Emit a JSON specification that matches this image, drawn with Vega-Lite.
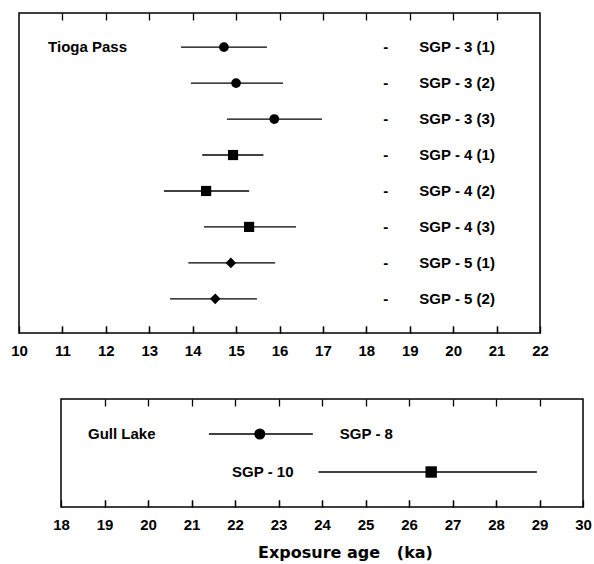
{
  "$schema": "https://vega.github.io/schema/vega-lite/v6.json",
  "padding": {"left": 9, "top": 12, "right": 0, "bottom": 0},
  "background": "white",
  "spacing": 39,
  "datasets": {
    "tioga": [
      {"sample": "SGP - 3 (1)", "group": "SGP-3", "age": 14.72, "low": 13.73, "high": 15.71},
      {"sample": "SGP - 3 (2)", "group": "SGP-3", "age": 15.0, "low": 13.96, "high": 16.08},
      {"sample": "SGP - 3 (3)", "group": "SGP-3", "age": 15.88, "low": 14.79, "high": 16.98},
      {"sample": "SGP - 4 (1)", "group": "SGP-4", "age": 14.93, "low": 14.22, "high": 15.63},
      {"sample": "SGP - 4 (2)", "group": "SGP-4", "age": 14.31, "low": 13.34, "high": 15.3},
      {"sample": "SGP - 4 (3)", "group": "SGP-4", "age": 15.3, "low": 14.26, "high": 16.38},
      {"sample": "SGP - 5 (1)", "group": "SGP-5", "age": 14.88, "low": 13.9, "high": 15.9},
      {"sample": "SGP - 5 (2)", "group": "SGP-5", "age": 14.52, "low": 13.48, "high": 15.48}
    ],
    "gull": [
      {"sample": "SGP - 8", "group": "SGP-8", "age": 22.57, "low": 21.4, "high": 23.79},
      {"sample": "SGP - 10", "group": "SGP-10", "age": 26.51, "low": 23.92, "high": 28.94}
    ]
  },
  "config": {
    "font": "Liberation Sans",
    "view": {"stroke": "black", "strokeWidth": 1.5},
    "axis": {
      "grid": false,
      "domain": false,
      "ticks": true,
      "zindex": 1,
      "labelFont": "Liberation Sans",
      "labelFontSize": 15,
      "labelFontWeight": "bold",
      "labelColor": "black",
      "labelFlush": false,
      "tickColor": "black",
      "tickOpacity": 1,
      "tickWidth": 1.3,
      "tickSize": 7,
      "offset": -7,
      "labelPadding": 10
    },
    "text": {"font": "Liberation Sans", "fontSize": 15, "fontWeight": "bold", "color": "black"}
  },
  "vconcat": [
    {
      "width": 521,
      "height": 320,
      "data": {"name": "tioga"},
      "encoding": {
        "y": {"field": "sample", "type": "nominal", "sort": null, "axis": null,
              "scale": {"type": "point", "padding": 0.95}}
      },
      "layer": [
        {
          "mark": {"type": "rule", "color": "black", "strokeWidth": 1.3},
          "encoding": {
            "x": {"field": "low", "type": "quantitative",
                  "scale": {"domain": [10, 22], "nice": false, "zero": false},
                  "axis": {"orient": "bottom", "title": null, "values": [10, 11, 12, 13, 14, 15, 16, 17, 18, 19, 20, 21, 22]}},
            "x2": {"field": "high"}
          }
        },
        {
          "mark": {"type": "point", "filled": true, "color": "black", "opacity": 1},
          "encoding": {
            "x": {"field": "age", "type": "quantitative",
                  "axis": {"orient": "top", "title": null, "labels": false, "ticks": false, "offset": 0,
                           "grid": true, "gridColor": "black", "gridOpacity": 1, "gridWidth": 1.3, "gridDash": [7, 306, 7, 100],
                           "values": [11, 12, 13, 14, 15, 16, 17, 18, 19, 20, 21]}},
            "shape": {"field": "group", "type": "nominal", "legend": null,
                      "scale": {"domain": ["SGP-3", "SGP-4", "SGP-5"], "range": ["circle", "square", "diamond"]}},
            "size": {"field": "group", "type": "ordinal", "legend": null,
                     "scale": {"domain": ["SGP-3", "SGP-4", "SGP-5"], "range": [95, 130, 170]}}
          }
        },
        {
          "mark": {"type": "text", "align": "left", "baseline": "middle"},
          "encoding": {
            "x": {"datum": 19.22, "type": "quantitative", "axis": null},
            "text": {"field": "sample"}
          }
        },
        {
          "mark": {"type": "text", "align": "center", "baseline": "middle", "text": "-"},
          "encoding": {
            "x": {"datum": 18.45, "type": "quantitative", "axis": null}
          }
        },
        {
          "data": {"values": [{"place": "Tioga Pass", "sample": "SGP - 3 (1)"}]},
          "mark": {"type": "text", "align": "left", "baseline": "middle"},
          "encoding": {
            "x": {"datum": 10.67, "type": "quantitative", "axis": null},
            "text": {"field": "place"}
          }
        }
      ]
    },
    {
      "spacing": 0,
      "hconcat": [
        {
          "width": 32,
          "height": 108,
          "view": {"stroke": null},
          "data": {"values": [{}]},
          "mark": {"type": "point", "opacity": 0},
          "encoding": {}
        },
        {
          "width": 522,
          "height": 108,
          "data": {"name": "gull"},
          "encoding": {
            "y": {"field": "sample", "type": "nominal", "sort": null, "axis": null,
                  "scale": {"type": "point", "padding": 0.92}}
          },
          "layer": [
            {
              "mark": {"type": "rule", "color": "black", "strokeWidth": 1.3},
              "encoding": {
                "x": {"field": "low", "type": "quantitative",
                      "scale": {"domain": [18, 30], "nice": false, "zero": false},
                      "axis": {"orient": "bottom", "title": "Exposure age\u00a0\u00a0\u00a0(ka)",
                               "titleFont": "DejaVu Sans", "titleFontSize": 16, "titleFontWeight": "bold", "titleColor": "black",
                               "titlePadding": 12, "titleX": 284,
                               "values": [18, 19, 20, 21, 22, 23, 24, 25, 26, 27, 28, 29, 30]}},
                "x2": {"field": "high"}
              }
            },
            {
              "mark": {"type": "point", "filled": true, "color": "black", "opacity": 1},
              "encoding": {
                "x": {"field": "age", "type": "quantitative",
                      "axis": {"orient": "top", "title": null, "labels": false, "ticks": false, "offset": 0,
                               "grid": true, "gridColor": "black", "gridOpacity": 1, "gridWidth": 1.3, "gridDash": [7, 94, 7, 100],
                               "values": [19, 20, 21, 22, 23, 24, 25, 26, 27, 28, 29]}},
                "shape": {"field": "group", "type": "nominal", "legend": null,
                          "scale": {"domain": ["SGP-8", "SGP-10"], "range": ["circle", "square"]}},
                "size": {"field": "group", "type": "ordinal", "legend": null,
                         "scale": {"domain": ["SGP-8", "SGP-10"], "range": [95, 120]}}
              }
            },
            {
              "transform": [{"filter": "datum.sample === 'SGP - 8'"}],
              "mark": {"type": "text", "align": "left", "baseline": "middle", "dx": 27},
              "encoding": {
                "x": {"field": "high", "type": "quantitative", "axis": null},
                "text": {"field": "sample"}
              }
            },
            {
              "transform": [{"filter": "datum.sample === 'SGP - 10'"}],
              "mark": {"type": "text", "align": "right", "baseline": "middle", "dx": -25},
              "encoding": {
                "x": {"field": "low", "type": "quantitative", "axis": null},
                "text": {"field": "sample"}
              }
            },
            {
              "data": {"values": [{"place": "Gull Lake", "sample": "SGP - 8"}]},
              "mark": {"type": "text", "align": "left", "baseline": "middle"},
              "encoding": {
                "x": {"datum": 18.62, "type": "quantitative", "axis": null},
                "text": {"field": "place"}
              }
            }
          ]
        }
      ]
    }
  ]
}
